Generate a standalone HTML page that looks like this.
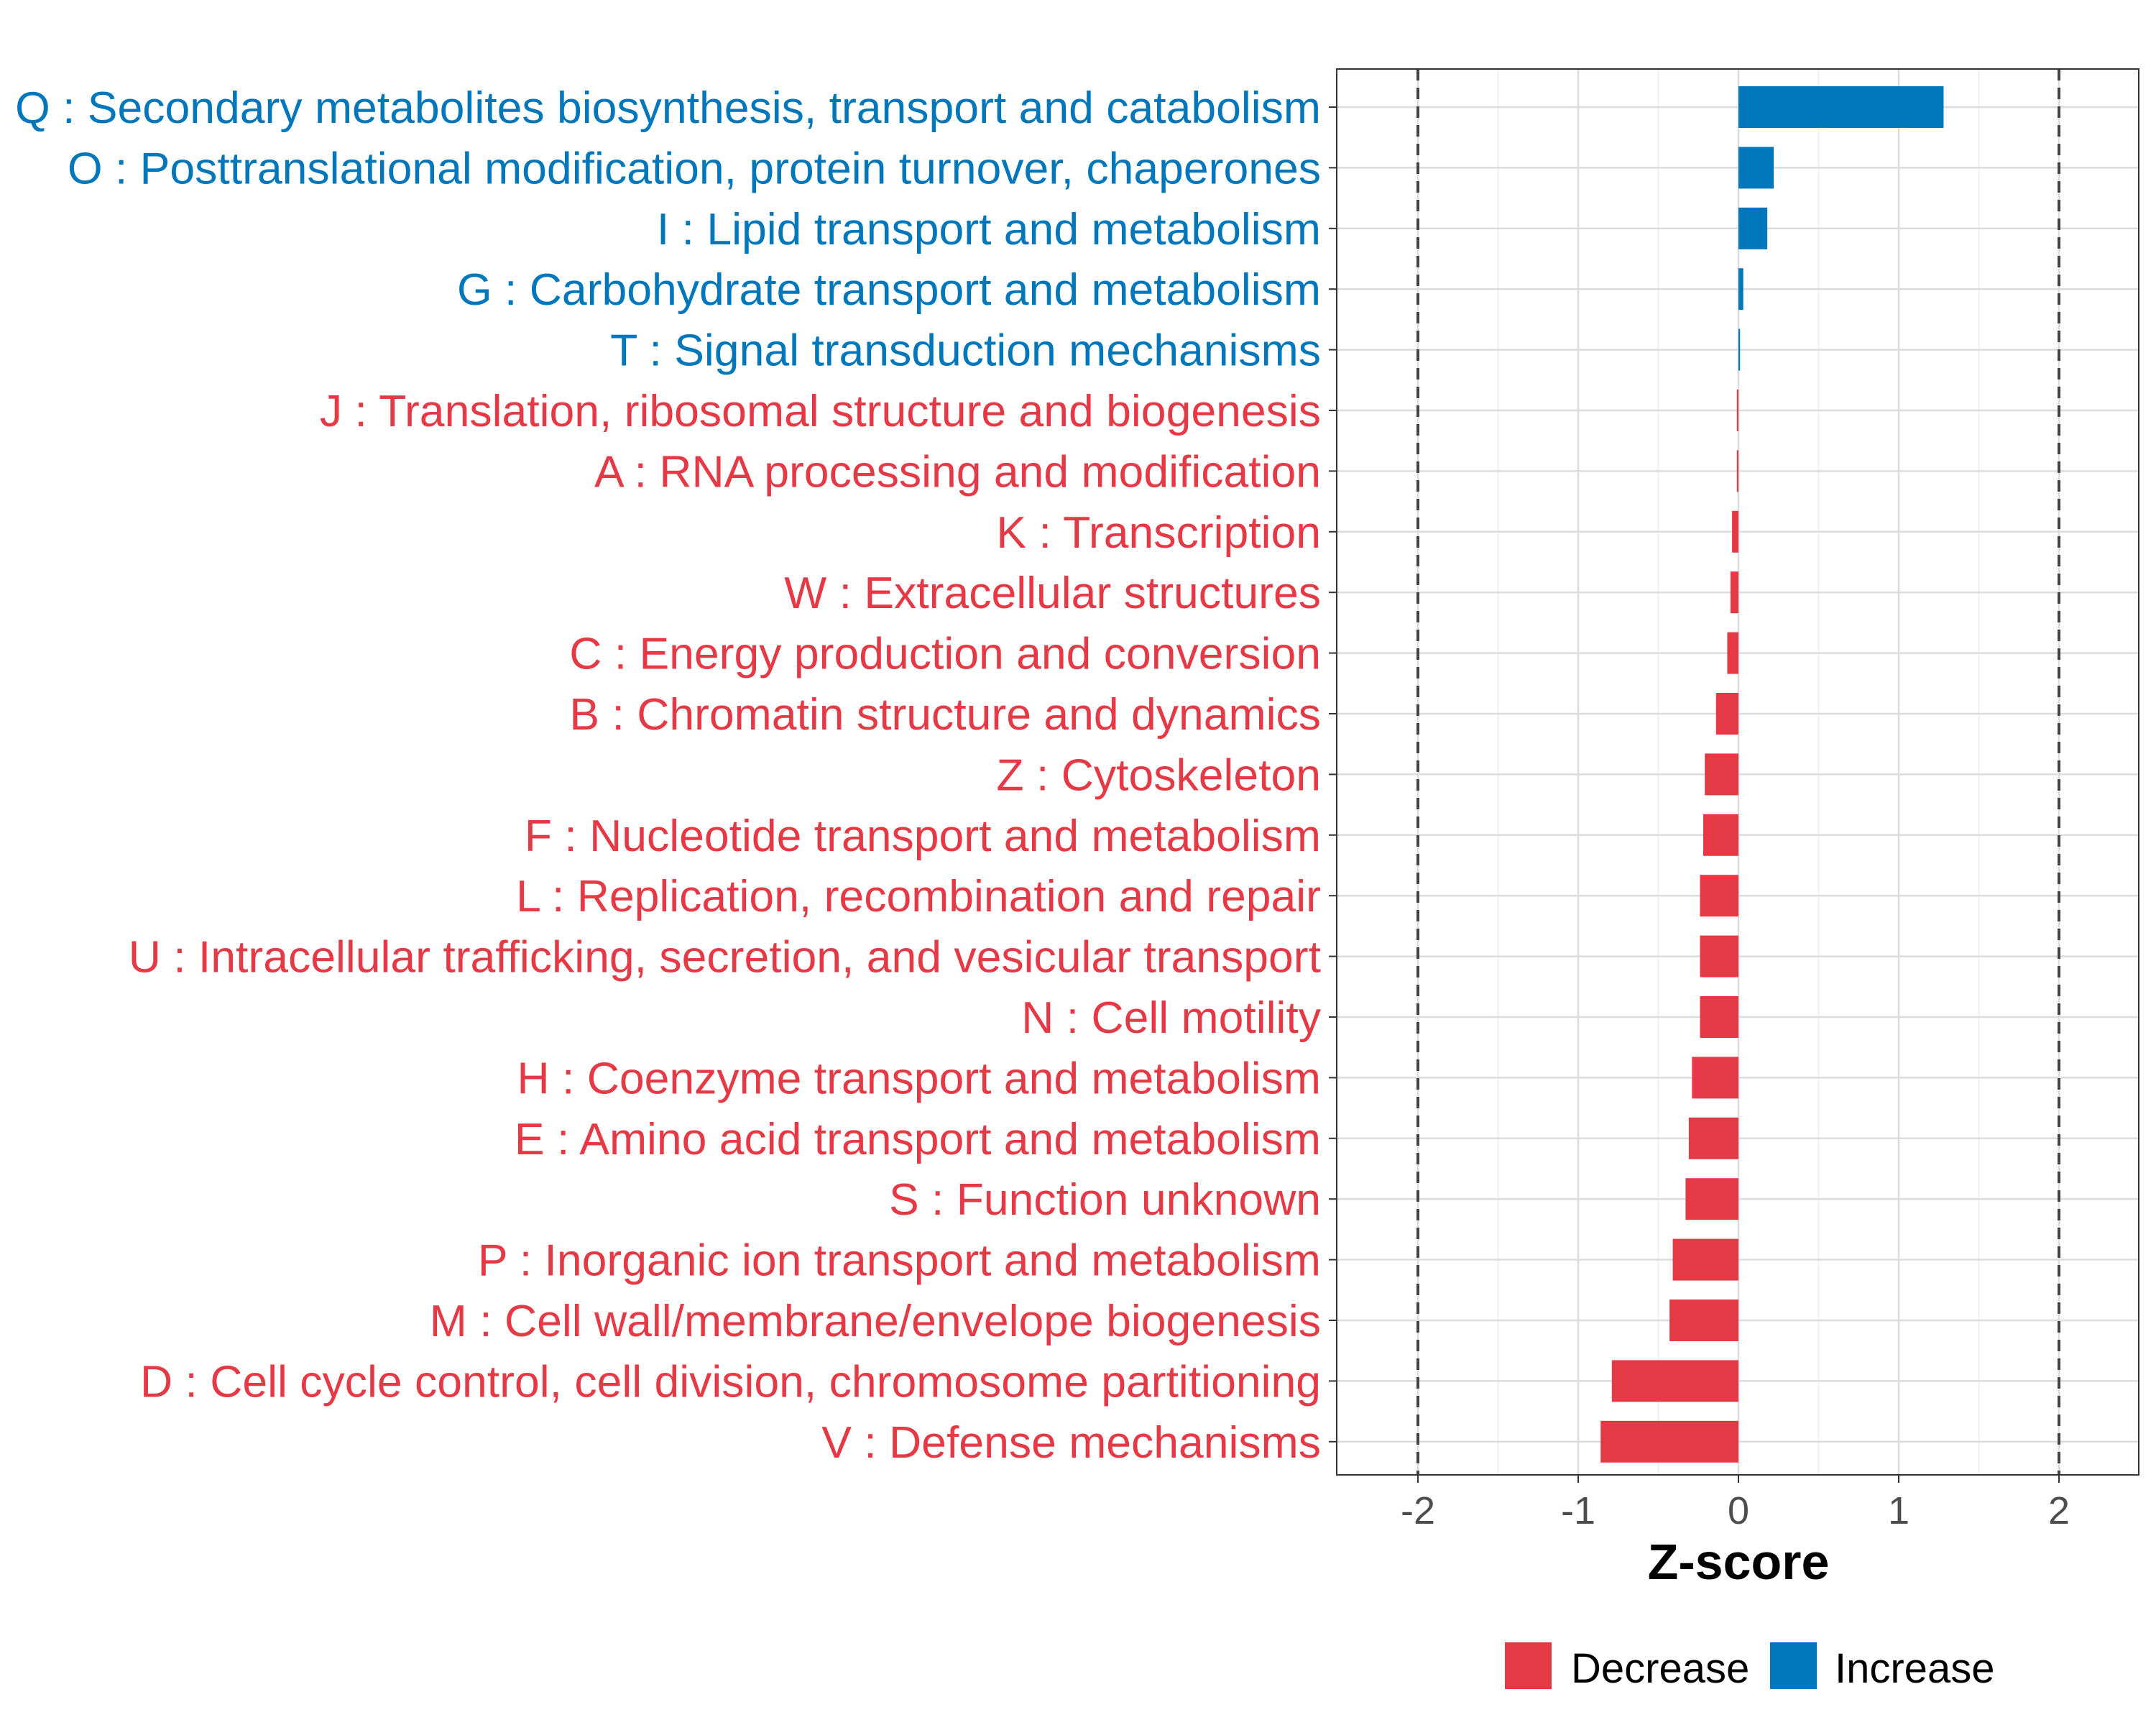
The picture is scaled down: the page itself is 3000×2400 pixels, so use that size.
<!DOCTYPE html>
<html><head><meta charset="utf-8"><style>
html,body{margin:0;padding:0;background:#fff;}
svg{display:block;font-family:"Liberation Sans",Arial,sans-serif;}
</style></head><body>
<svg id="chart" width="3000" height="2400" viewBox="0 0 3000 2400">
<rect x="0" y="0" width="3000" height="2400" fill="#fff"/>
<g id="grid"></g><g id="bars"></g><g id="labels"></g><g id="xaxis"></g>
<rect x="1860" y="96" width="1116" height="1956" fill="none" stroke="#333" stroke-width="2"/>
<text x="2419" y="2197" text-anchor="middle" font-size="70" font-weight="bold" fill="#000">Z-score</text>
<g>
<rect x="2094" y="2285" width="65" height="65" fill="#E63946"/>
<text x="2186" y="2341" font-size="58" fill="#000">Decrease</text>
<rect x="2463" y="2285" width="65" height="65" fill="#0077BB"/>
<text x="2553" y="2341" font-size="58" fill="#000">Increase</text>
</g>
</svg>
<script>
const categories=["Q : Secondary metabolites biosynthesis, transport and catabolism","O : Posttranslational modification, protein turnover, chaperones","I : Lipid transport and metabolism","G : Carbohydrate transport and metabolism","T : Signal transduction mechanisms","J : Translation, ribosomal structure and biogenesis","A : RNA processing and modification","K : Transcription","W : Extracellular structures","C : Energy production and conversion","B : Chromatin structure and dynamics","Z : Cytoskeleton","F : Nucleotide transport and metabolism","L : Replication, recombination and repair","U : Intracellular trafficking, secretion, and vesicular transport","N : Cell motility","H : Coenzyme transport and metabolism","E : Amino acid transport and metabolism","S : Function unknown","P : Inorganic ion transport and metabolism","M : Cell wall/membrane/envelope biogenesis","D : Cell cycle control, cell division, chromosome partitioning","V : Defense mechanisms"];
const zscores=[1.28,0.22,0.18,0.03,0.01,-0.01,-0.01,-0.04,-0.05,-0.07,-0.14,-0.21,-0.22,-0.24,-0.24,-0.24,-0.29,-0.31,-0.33,-0.41,-0.43,-0.79,-0.86];
const xTicks=[-2,-1,0,1,2];
const xTickLabels=["-2","-1","0","1","2"];
const thresholds=[-2,2];
const NS="http://www.w3.org/2000/svg";
const x=v=>2419+v*223;
const y=i=>149+i*84.4;
function mk(tag,attrs,parent){const e=document.createElementNS(NS,tag);for(const k in attrs)e.setAttribute(k,attrs[k]);document.getElementById(parent).appendChild(e);return e;}
xTicks.forEach((t,i)=>{
 const g=mk("line",{x1:x(t),x2:x(t),y1:96,y2:2052,stroke:"#dcdcdc","stroke-width":2.5},"grid");
 
 
 if(i<xTicks.length-1){const m=mk("line",{x1:x(t+0.5),x2:x(t+0.5),y1:96,y2:2052,stroke:"#ececec","stroke-width":1.5},"grid");
 
 }
 const tk=mk("line",{x1:x(t),x2:x(t),y1:2052,y2:2063,stroke:"#333","stroke-width":2},"xaxis");
 
 
 const tl=mk("text",{x:x(t),y:2120,"text-anchor":"middle","font-size":54,fill:"#4d4d4d"},"xaxis");
 tl.textContent=xTickLabels[i];
 
 
});
categories.forEach((c,i)=>{
 const gl=mk("line",{x1:1860,x2:2976,y1:y(i),y2:y(i),stroke:"#dcdcdc","stroke-width":2.5},"grid");
 
 
 const v=zscores[i];const col=v>=0?"#0077BB":"#E63946";
 const b=mk("rect",{x:Math.min(x(0),x(v)),y:y(i)-29,width:Math.max(Math.abs(x(v)-x(0)),1.5),height:58,fill:col},"bars");
 
 
 const tk=mk("line",{x1:1849,x2:1860,y1:y(i),y2:y(i),stroke:"#333","stroke-width":2},"labels");
 
 
 const t=mk("text",{x:1838,y:y(i)+22,"text-anchor":"end","font-size":62.5,fill:col},"labels");
 t.textContent=c;
 
 
});
thresholds.forEach(t=>{
 const l=mk("line",{x1:x(t),x2:x(t),y1:96,y2:2052,stroke:"#444","stroke-width":4,"stroke-dasharray":"16,10"},"bars");
 
 
});
</script>
</body></html>
